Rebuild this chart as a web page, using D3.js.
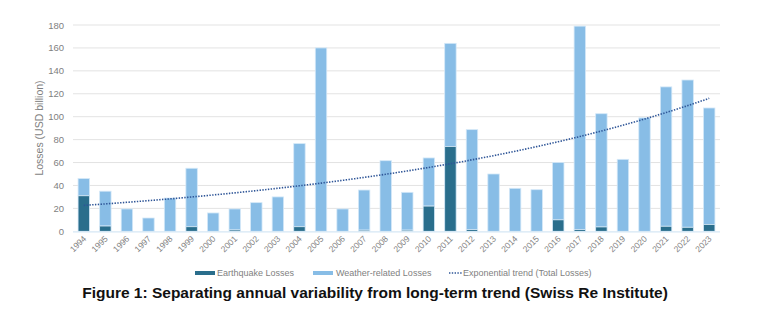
<!DOCTYPE html>
<html><head><meta charset="utf-8">
<script src="https://cdn.jsdelivr.net/npm/d3@7"></script>
<style>
html,body{margin:0;padding:0;background:#fff;}
svg{display:block;font-family:"Liberation Sans",Arial,sans-serif;}
</style></head>
<body><svg id="c" width="760" height="332"></svg>
<script>
const years = ["1994","1995","1996","1997","1998","1999","2000","2001","2002","2003","2004","2005","2006","2007","2008","2009","2010","2011","2012","2013","2014","2015","2016","2017","2018","2019","2020","2021","2022","2023"];
const totalLosses = [46,35,19.5,11.6,29,55,16,19.5,25,30,76.5,160,19.5,36,61.6,34,64,164,88.7,50,37.5,36.3,60,179,102.6,62.8,99,126,132,107.6];
const earthquakeLosses = [31,4.6,0,0,0,4,0,1.2,0,0,4,0,0,1,0,1,22,74,1.5,0,0,0,10,1.5,3.8,0,0,4.4,3.5,6];
const yTicks = [0,20,40,60,80,100,120,140,160,180];
const legendLabels = ["Earthquake Losses","Weather-related Losses","Exponential trend (Total Losses)"];
const titleText = "Figure 1: Separating annual variability from long-term trend (Swiss Re Institute)";
const yTitle = "Losses (USD billion)";

const svg = d3.select("#c");
const colEq = "#2A6E8C", colW = "#88BDE6", colTrend = "#2E5597", grey = "#7f7f7f";

const x = d3.scaleBand().domain(years).range([73, 720]).paddingInner(0.47).paddingOuter(0.235);
const y = d3.scaleLinear().domain([0, 180]).range([231.3, 25]);

// gridlines
svg.append("g").selectAll("line").data(yTicks.filter(d => d > 0)).join("line")
  .attr("x1", 73).attr("x2", 720).attr("y1", d => y(d)).attr("y2", d => y(d))
  .attr("stroke", "#e3e3e3").attr("stroke-width", 1);

// y axis labels
const yAxis = d3.axisLeft(y).tickValues(yTicks).tickSize(0).tickPadding(0);
const gy = svg.append("g").attr("transform", "translate(64,0)").call(yAxis);
gy.select(".domain").remove();
gy.selectAll("text").attr("fill", grey).attr("font-size", 9.5).attr("font-family", "Liberation Sans, Arial, sans-serif");

// y title
svg.append("text").attr("transform", "translate(43,128) rotate(-90)")
  .attr("text-anchor", "middle").attr("fill", grey).attr("font-size", 10.5).text(yTitle);

// bars
const data = years.map((yr, i) => ({yr, total: totalLosses[i], eq: earthquakeLosses[i]}));
const g = svg.append("g");
g.selectAll("rect.w").data(data).join("rect").attr("class", "w")
  .attr("x", d => x(d.yr)).attr("width", x.bandwidth())
  .attr("y", d => y(d.total)).attr("height", d => y(d.eq) - y(d.total))
  .attr("fill", colW).attr("stroke", "#d4e8f8").attr("stroke-width", 0.8);
g.selectAll("rect.e").data(data.filter(d => d.eq > 0)).join("rect").attr("class", "e")
  .attr("x", d => x(d.yr)).attr("width", x.bandwidth())
  .attr("y", d => y(d.eq)).attr("height", d => y(0) - y(d.eq))
  .attr("fill", colEq).attr("stroke", "#d4e8f8").attr("stroke-width", 0.8);

// baseline
svg.append("line").attr("x1", 73).attr("x2", 720).attr("y1", y(0) + 0.5).attr("y2", y(0) + 0.5)
  .attr("stroke", "#d6e7f5").attr("stroke-width", 1.2);

// x axis labels
const xAxis = d3.axisBottom(x).tickSize(0).tickPadding(0);
const gx = svg.append("g").attr("transform", `translate(0,${y(0)})`).call(xAxis);
gx.select(".domain").remove();
gx.selectAll("text").attr("fill", grey).attr("font-size", 8.5)
  .attr("font-family", "Liberation Sans, Arial, sans-serif")
  .attr("text-anchor", "end").attr("dy", 0).attr("y", 0)
  .attr("transform", "translate(3,8) rotate(-45)");

// exponential trend: least squares fit of ln(total) on year index
const n = totalLosses.length;
const ts = d3.range(n);
const lns = totalLosses.map(Math.log);
const mt = d3.mean(ts), ml = d3.mean(lns);
const slope = d3.sum(ts, t => (t - mt) * (lns[t] - ml)) / d3.sum(ts, t => (t - mt) ** 2);
const icpt = ml - slope * mt;
const trend = ts.map(t => Math.exp(icpt + slope * t));
const line = d3.line().x((d, i) => x(years[i]) + x.bandwidth() / 2).y(d => y(d)).curve(d3.curveMonotoneX);
svg.append("path").datum(trend).attr("d", line).attr("fill", "none")
  .attr("stroke", colTrend).attr("stroke-width", 1.6).attr("stroke-dasharray", "1.4,1.4");

// legend
const lg = svg.append("g").attr("font-size", 9).attr("fill", grey);
const lx = [195, 313, 449];
lg.append("rect").attr("x", lx[0]).attr("y", 271).attr("width", 20).attr("height", 4).attr("fill", colEq);
lg.append("rect").attr("x", lx[1]).attr("y", 271).attr("width", 20).attr("height", 4).attr("fill", colW);
lg.append("line").attr("x1", lx[2]).attr("x2", lx[2] + 13).attr("y1", 273).attr("y2", 273)
  .attr("stroke", colTrend).attr("stroke-width", 1.5).attr("stroke-dasharray", "1.4,1.4");
[lx[0] + 22, lx[1] + 23, lx[2] + 14].forEach((xx, i) => {
  lg.append("text").attr("x", xx).attr("y", 276.3).attr("fill", grey).text(legendLabels[i]);
});

// title
const t = svg.append("text").attr("x", 375).attr("y", 298).attr("text-anchor", "middle")
  .attr("font-weight", "bold").attr("font-size", 14).attr("fill", "#111").text(titleText);
const w = t.node().getComputedTextLength();
t.attr("font-size", 14 * 586 / w);
</script></body></html>
